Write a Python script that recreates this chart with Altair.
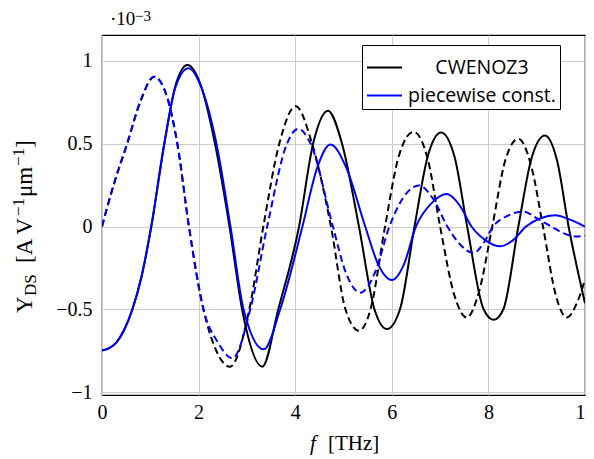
import altair as alt
import pandas as pd

# ---- data (f in THz, Y in 1e-3 A/V/um) ----
cw_solid_f = [0, 0.15, 0.3, 0.45, 0.63, 0.82, 1.02, 1.29, 1.52, 1.77, 2.05, 2.34, 2.64, 2.9, 3.32, 3.65, 4.08,
              4.37, 4.68, 4.97, 5.32, 5.64, 5.9, 6.17, 6.47, 6.75, 7.02, 7.3, 7.56, 7.9, 8.11, 8.31, 8.62,
              8.9, 9.17, 9.42, 9.66, 10.0]
cw_solid_y = [-0.75, -0.735, -0.70, -0.63, -0.5, -0.3, 0.0, 0.5, 0.85, 0.976, 0.85, 0.5, 0.0, -0.5, -0.847,
              -0.5, 0.0, 0.5, 0.70, 0.5, 0.0, -0.5, -0.62, -0.5, 0.0, 0.43, 0.568, 0.42, 0.0, -0.5, -0.564,
              -0.5, 0.0, 0.42, 0.55, 0.4, 0.0, -0.464]

pc_solid_f = [0, 0.15, 0.3, 0.45, 0.63, 0.82, 1.02, 1.29, 1.52, 1.79, 2.07, 2.37, 2.66, 2.93, 3.35, 3.69,
              4.15, 4.45, 4.73, 5.05, 5.45, 5.72, 6.0, 6.25, 6.5, 6.82, 7.14, 7.4, 7.65, 7.95, 8.24, 8.5,
              8.78, 9.08, 9.38, 9.7, 10.0]
pc_solid_y = [-0.75, -0.735, -0.70, -0.63, -0.5, -0.3, 0.0, 0.5, 0.84, 0.956, 0.83, 0.5, 0.0, -0.5, -0.742,
              -0.5, 0.0, 0.35, 0.495, 0.36, 0.0, -0.23, -0.323, -0.23, 0.0, 0.14, 0.196, 0.13, 0.0, -0.085,
              -0.12, -0.085, 0.0, 0.05, 0.068, 0.04, 0.0]

cw_dash_f = [0, 0.25, 0.52, 0.8, 1.08, 1.35, 1.56, 1.8, 2.1, 2.35, 2.65, 3.05, 3.34, 3.67, 4.01, 4.35, 4.74,
             5.04, 5.32, 5.56, 5.86, 6.15, 6.45, 6.75, 7.0, 7.3, 7.55, 7.8, 8.08, 8.35, 8.62, 8.9, 9.13,
             9.4, 9.62, 9.85, 10.0]
cw_dash_y = [0.0, 0.26, 0.5, 0.76, 0.905, 0.78, 0.5, 0.0, -0.5, -0.74, -0.847, -0.5, 0.0, 0.5, 0.727, 0.5,
             0.0, -0.5, -0.63, -0.5, 0.0, 0.43, 0.572, 0.4, 0.0, -0.42, -0.55, -0.4, 0.0, 0.4, 0.53, 0.35,
             0.0, -0.42, -0.55, -0.45, -0.32]

pc_dash_f = [0, 0.25, 0.52, 0.8, 1.08, 1.35, 1.56, 1.8, 2.1, 2.4, 2.7, 3.07, 3.42, 3.83, 4.06, 4.32, 4.78,
             5.05, 5.35, 5.65, 5.95, 6.25, 6.56, 6.85, 7.15, 7.42, 7.69, 7.9, 8.1, 8.4, 8.73, 9.0, 9.3,
             9.55, 9.8, 10.0]
pc_dash_y = [0.0, 0.26, 0.5, 0.76, 0.905, 0.78, 0.5, 0.0, -0.5, -0.7, -0.796, -0.5, 0.0, 0.5, 0.59, 0.5,
             0.0, -0.28, -0.40, -0.28, 0.0, 0.18, 0.248, 0.17, 0.0, -0.11, -0.16, -0.1, 0.0, 0.065, 0.09,
             0.05, 0.0, -0.04, -0.06, -0.055]

series_names = ["CWENOZ3", "piecewise const."]
series_colors = ["#000000", "#0000ff"]
x_ticks = [0, 2, 4, 6, 8, 10]
y_ticks = [-1, -0.5, 0, 0.5, 1]


def frame(fs, ys, name):
    return pd.DataFrame({"f": fs, "y": ys, "series": name})


SERIF = "Liberation Serif"
SANS = "Open Sans"
W, H = 483, 360

xenc = alt.X("f:Q", scale=alt.Scale(domain=[0, 10], nice=False, zero=False),
             axis=alt.Axis(values=x_ticks, title=None, format="d", labelPadding=7, labelFlush=False,
                           labelFont=SERIF, labelFontSize=20, labelColor="black"))
yenc = alt.Y("y:Q", scale=alt.Scale(domain=[-1.018, 1.157], nice=False, zero=False),
             axis=alt.Axis(values=y_ticks, title=None, format=".1~f", labelPadding=10, labelFlush=False,
                           labelFont=SERIF, labelFontSize=20, labelColor="black"))

color_scale = alt.Scale(domain=series_names, range=series_colors)
legend = alt.Legend(title=None, orient="none", legendX=260, legendY=10, direction="vertical",
                    symbolType="stroke", symbolSize=1225, symbolStrokeWidth=2,
                    labelFontSize=19.5, labelColor="black", labelAlign="center",
                    padding=4, strokeColor="black", fillColor="white", rowPadding=0,
                    labelOffset=79, labelLimit=400)

line_kw = dict(strokeWidth=2, interpolate="monotone", clip=True)
DASH = [7, 4]

l_cw = alt.Chart(frame(cw_solid_f, cw_solid_y, "CWENOZ3")).mark_line(**line_kw).encode(
    x=xenc, y=yenc, color=alt.Color("series:N", scale=color_scale, legend=legend))
l_cwd = alt.Chart(frame(cw_dash_f, cw_dash_y, "CWENOZ3")).mark_line(strokeDash=DASH, **line_kw).encode(
    x=xenc, y=yenc, color=alt.value(series_colors[0]))
l_pc = alt.Chart(frame(pc_solid_f, pc_solid_y, "piecewise const.")).mark_line(**line_kw).encode(
    x=xenc, y=yenc, color=alt.Color("series:N", scale=color_scale, legend=legend))
l_pcd = alt.Chart(frame(pc_dash_f, pc_dash_y, "piecewise const.")).mark_line(strokeDash=DASH, **line_kw).encode(
    x=xenc, y=yenc, color=alt.value(series_colors[1]))

dummy = alt.Data(values=[{}])


def label(text, x, y, size=20, angle=0, italic=False, align="left"):
    kw = dict(text=text, font=SERIF, fontSize=size, align=align, baseline="alphabetic", color="black")
    if angle:
        kw["angle"] = angle
    if italic:
        kw["fontStyle"] = "italic"
    return alt.Chart(dummy).mark_text(**kw).encode(x=alt.value(x), y=alt.value(y))


# y-axis title pieces (rotated), positions relative to plot origin
yx = -70
texts = [
    label("Y", yx, 278, 23, 270),
    label("DS", yx + 4, 261, 17, 270),
    label("[A V", yx, 228, 23, 270),
    label("−1", yx - 8, 181, 17, 270),
    label("μm", yx, 162, 23, 270),
    label("−1", yx - 8, 131, 17, 270),
    label("]", yx, 113, 23, 270),
    # x-axis title
    label("f", 211, 415, 21, italic=True, align="center"),
    label("[THz]", 226, 415, 21),
    # exponent
    label("·10", 8, -10, 19),
    label("−3", 33, -14, 15),
]

chart = alt.layer(l_cw, l_cwd, l_pc, l_pcd, *texts).properties(
    width=W, height=H,
    autosize=alt.AutoSizeParams(type="none"),
    padding={"left": 94, "top": 27, "right": 1, "bottom": 60},
).configure(font=SERIF).configure_view(stroke="black", strokeWidth=1.2).configure_axis(
    grid=True, gridColor="#cccccc", gridWidth=1, domain=False, ticks=False,
    labelFont=SERIF, labelFontSize=20, labelColor="black",
).configure_legend(labelFont=SANS)

chart.save("out.html", embed_options={"renderer": "svg", "actions": False})
